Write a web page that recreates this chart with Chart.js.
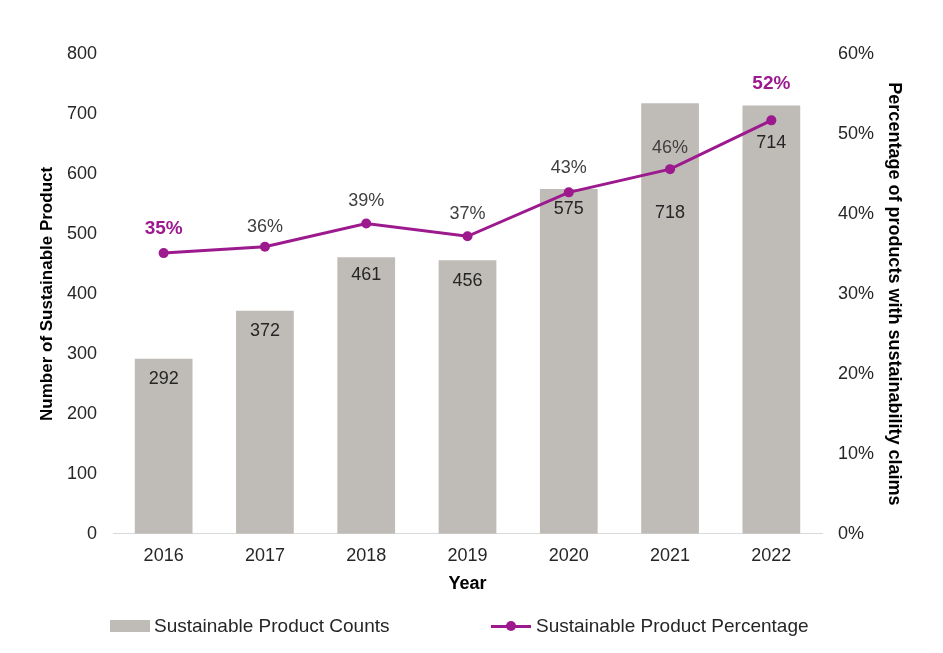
<!DOCTYPE html>
<html>
<head>
<meta charset="utf-8">
<script src="https://cdn.jsdelivr.net/npm/chart.js@4.4.1/dist/chart.umd.min.js"></script>
<style>
  html, body { margin: 0; padding: 0; background: #fff; }
  #wrap { position: relative; width: 943px; height: 653px; }
  #legend { position: absolute; left: 0; top: 614px; width: 943px; font: 19px 'Liberation Sans', Arial, sans-serif; color: #262626; }
  .item { position: absolute; top: 0; display: flex; align-items: center; height: 24px; }
  .swatch { width: 40px; height: 12px; background: #BFBBB7; margin-right: 4px; }
  .lineswatch { position: relative; width: 40px; height: 12px; margin-right: 5px; }
  .lineswatch::before { content: ''; position: absolute; left: 0; right: 0; top: 4.5px; height: 3px; background: #9C1A8E; }
  .lineswatch::after { content: ''; position: absolute; left: 15px; top: 1px; width: 10px; height: 10px; border-radius: 50%; background: #9C1A8E; }
</style>
</head>
<body>
<div id="wrap">
  <canvas id="myChart" width="943" height="653"></canvas>
  <div id="legend">
    <div class="item" style="left:110px"><span class="swatch"></span>Sustainable Product Counts</div>
    <div class="item" style="left:491px"><span class="lineswatch"></span>Sustainable Product Percentage</div>
  </div>
</div>
<script>
const years = ['2016', '2017', '2018', '2019', '2020', '2021', '2022']
const productCounts = [292, 372, 461, 456, 575, 718, 714]
const productPercent = [35.1, 35.9, 38.8, 37.2, 42.7, 45.6, 51.7]
const percentLabels = ['35%', '36%', '39%', '37%', '43%', '46%', '52%']
const countTicks = [0, 100, 200, 300, 400, 500, 600, 700, 800]
const percentTicks = [0, 10, 20, 30, 40, 50, 60]

const GREY = '#BFBBB7'
const PURPLE = '#9C1A8E'
const FONT = "'Liberation Sans', Arial, sans-serif"

// draws the value labels on bars and line points
const valueLabels = {
  id: 'valueLabels',
  afterDatasetsDraw (chart, args, opts) {
    const ctx = chart.ctx
    ctx.save()
    ctx.textAlign = 'center'
    ctx.textBaseline = 'middle'
    const bars = chart.getDatasetMeta(1).data
    bars.forEach((bar, i) => {
      ctx.font = '18px ' + FONT
      ctx.fillStyle = '#262626'
      ctx.fillText(String(productCounts[i]), bar.x, bar.y + opts.barDy[i])
    })
    const pts = chart.getDatasetMeta(0).data
    pts.forEach((pt, i) => {
      const emph = opts.emphasis.includes(i)
      ctx.font = (emph ? 'bold 19px ' : '18px ') + FONT
      ctx.fillStyle = emph ? PURPLE : '#404040'
      ctx.fillText(percentLabels[i], pt.x, pt.y + opts.lineDy[i])
    })
    ctx.restore()
  }
}

const ctx = document.getElementById('myChart').getContext('2d')
const myChart = new Chart(ctx, {
  type: 'bar',
  data: {
    labels: years,
    datasets: [{
      type: 'line',
      label: 'Sustainable Product Percentage',
      data: productPercent,
      yAxisID: 'y1',
      borderColor: PURPLE,
      backgroundColor: PURPLE,
      borderWidth: 3,
      pointRadius: 5,
      pointBackgroundColor: PURPLE,
      pointBorderWidth: 0,
      tension: 0,
      order: 0
    }, {
      type: 'bar',
      label: 'Sustainable Product Counts',
      data: productCounts,
      yAxisID: 'y',
      backgroundColor: GREY,
      barPercentage: 0.57,
      categoryPercentage: 1,
      order: 1
    }]
  },
  options: {
    responsive: false,
    animation: false,
    layout: { padding: { left: 33, right: 34, top: 54, bottom: 54 } },
    plugins: {
      legend: { display: false },
      tooltip: { enabled: false },
      valueLabels: {
        barDy: [20, 20, 18, 21, 20, 110, 37],
        lineDy: [-24, -20, -22, -22, -24, -21, -37],
        emphasis: [0, 6]
      }
    },
    scales: {
      x: {
        grid: { display: false },
        border: { display: true, color: '#D9D9D9', width: 1 },
        ticks: { color: '#262626', font: { family: FONT, size: 18 }, padding: 3 },
        title: { display: true, text: 'Year', color: '#000', font: { family: FONT, size: 18, weight: 'bold' }, padding: { top: 4 } }
      },
      y: {
        position: 'left',
        min: 0,
        max: 800,
        afterBuildTicks: (scale) => { scale.ticks = countTicks.map(v => ({ value: v })) },
        grid: { display: false, drawTicks: false },
        border: { display: false },
        ticks: { color: '#262626', font: { family: FONT, size: 18 }, padding: 16 },
        title: { display: true, text: 'Number of Sustainable Product', color: '#000', font: { family: FONT, size: 17, weight: 'bold' } },
        afterFit: (scale) => { scale.width = 80 }
      },
      y1: {
        position: 'right',
        min: 0,
        max: 60,
        afterBuildTicks: (scale) => { scale.ticks = percentTicks.map(v => ({ value: v })) },
        grid: { display: false, drawTicks: false },
        border: { display: false },
        ticks: { color: '#262626', font: { family: FONT, size: 18 }, padding: 16, callback: v => v + '%' },
        title: { display: true, text: 'Percentage of products with sustainability claims', color: '#000', font: { family: FONT, size: 18, weight: 'bold' } },
        afterFit: (scale) => { scale.width = 87 }
      }
    }
  },
  plugins: [valueLabels]
})
</script>
</body>
</html>
